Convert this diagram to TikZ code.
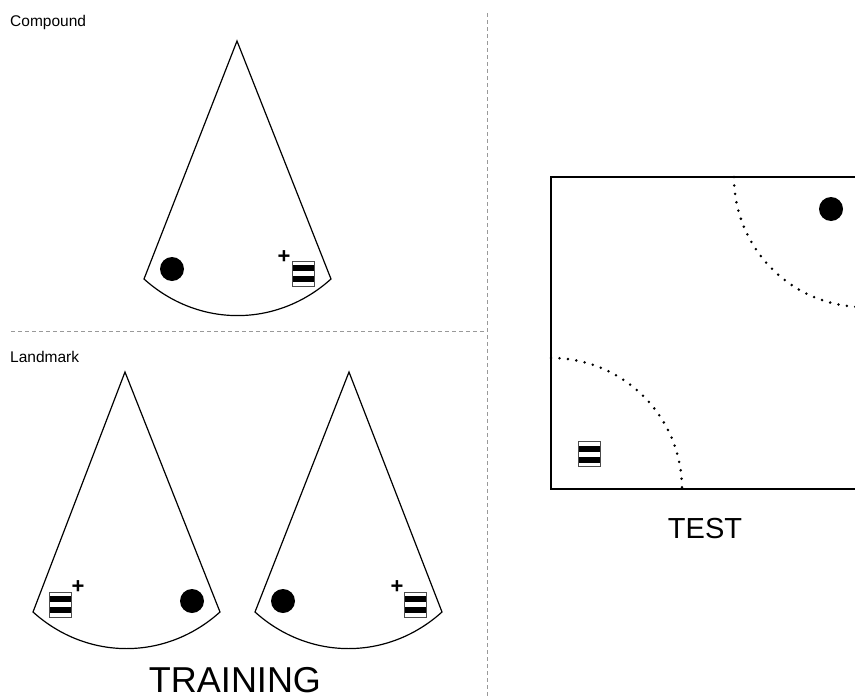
\documentclass[tikz,border=0pt]{standalone}
\usepackage{fontspec}
\setmainfont{Liberation Sans}
\begin{document}
\begin{tikzpicture}[x=1pt,y=-1pt,
  cone/.style={draw=black, line width=1.2pt, line join=miter},
  sep/.style={draw=black!40, line width=1pt, dash pattern=on 4pt off 3pt},
  goal/.style={circle, fill=black, inner sep=0pt, minimum size=24pt},
  plussign/.style={font=\fontsize{22}{22}\selectfont\bfseries, inner sep=0pt},
  lbl/.style={font=\fontsize{15.5}{18}\selectfont, anchor=west, inner sep=0pt},
  biglbl/.style={font=\fontsize{#1}{#1}\selectfont, inner sep=0pt},
  arcdots/.style={line width=2.8pt, line cap=round, dash pattern=on 0pt off 8.5pt},
  landmark/.style={rectangle, draw=black!70, line width=0.8pt, fill=white,
    minimum width=22pt, minimum height=25pt, inner sep=0pt,
    path picture={
      \fill[black] ([shift={(-12,-8.5)}]path picture bounding box.center) rectangle ([shift={(12,-2.5)}]path picture bounding box.center);
      \fill[black] ([shift={(-12,2.5)}]path picture bounding box.center) rectangle ([shift={(12,8.5)}]path picture bounding box.center);
    }},
  room/.style={draw=black, line width=1.1pt}
]
\useasboundingbox (0,0) rectangle (855,699);
\clip (0,0) rectangle (855,699);

% separators
\coordinate (vtop) at (487,13);
\coordinate (vbot) at (487,699);
\coordinate (hl) at (11,331);
\coordinate (hr) at (487,331);
\draw[sep] (vtop) -- (vbot);
\draw[sep] (hl) -- (hr);

% labels
\node[lbl] (compound) at (10,22) {Compound};
\node[lbl] (landmarklbl) at (10,357) {Landmark};
\node[biglbl=29] (test) at (705,529) {TEST};
\node[biglbl=36] (training) at (235,680) {TRAINING};

% top cone
\coordinate (A1) at (237,41);
\coordinate (L1) at (144,279);
\coordinate (R1) at (331,279);
\draw[cone] (A1) -- (R1) to[bend left=42] (L1) -- cycle;
\node[goal] (g1) at (172,269) {};
\node[landmark] (lm1) at (303,273.5) {};
\node[plussign] (p1) at (284,257) {+};

% bottom-left cone
\coordinate (A2) at (125,372);
\coordinate (L2) at (33,612);
\coordinate (R2) at (220,612);
\draw[cone] (A2) -- (R2) to[bend left=42] (L2) -- cycle;
\node[landmark] (lm2) at (60.5,604.5) {};
\node[plussign] (p2) at (78,587) {+};
\node[goal] (g2) at (192,601) {};

% bottom-right cone
\coordinate (A3) at (349,372);
\coordinate (L3) at (255,612);
\coordinate (R3) at (442,612);
\draw[cone] (A3) -- (R3) to[bend left=42] (L3) -- cycle;
\node[goal] (g3) at (283,601) {};
\node[landmark] (lm3) at (415,604.5) {};
\node[plussign] (p3) at (397,587) {+};

% test room
\coordinate (TL) at (551,177);
\coordinate (BR) at (864,489);
\draw[room] (TL) rectangle (BR);
\coordinate (c1) at (864,177);
\coordinate (c2) at (551,489);
\draw[arcdots] ([xshift=-130pt]c1) arc[start angle=180, end angle=270, radius=130pt];
\draw[arcdots] ([yshift=131pt]c2) arc[start angle=90, end angle=0, radius=131pt];
\node[goal] (g4) at (831,209) {};
\node[landmark] (lm4) at (589,454) {};
\end{tikzpicture}
\end{document}
